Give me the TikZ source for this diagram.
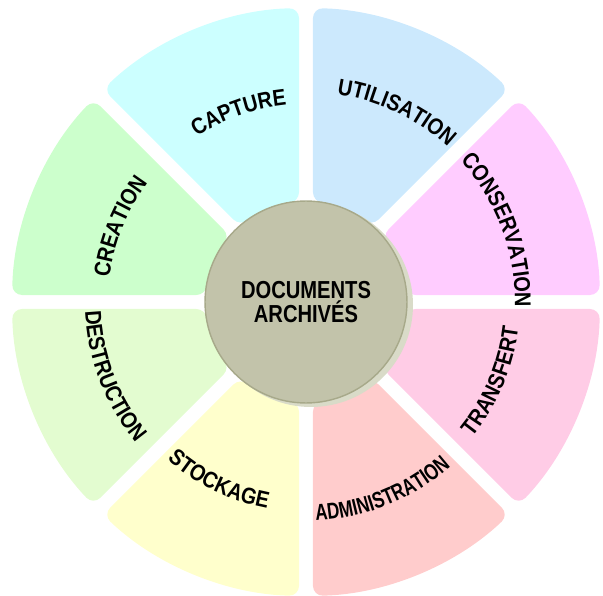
\documentclass[tikz,border=0pt]{standalone}
\usepackage{fontspec}
\setmainfont{Liberation Sans}
\newfontfamily\lblfont[FakeStretch=0.87]{Liberation Sans}
\newfontfamily\narrowfont[FakeStretch=0.75]{Liberation Sans}
\newfontfamily\hubfont[FakeStretch=0.82]{Liberation Sans}
\usetikzlibrary{decorations.text}

\definecolor{capturecol}{HTML}{CCFFFF}
\definecolor{utilcol}{HTML}{CCE9FD}
\definecolor{conscol}{HTML}{FFCCFF}
\definecolor{transcol}{HTML}{FFCCE6}
\definecolor{admincol}{HTML}{FFCCCC}
\definecolor{stockcol}{HTML}{FFFFCC}
\definecolor{destcol}{HTML}{E3FCD0}
\definecolor{creacol}{HTML}{CCFFCC}
\definecolor{hubcol}{HTML}{C2C3AA}
\definecolor{hubline}{HTML}{A7A98A}
\definecolor{hubshadow}{HTML}{D9DBC8}

\begin{document}
\begin{tikzpicture}[x=0.02cm,y=0.02cm,
    sector/.style={rounded corners=0.2cm},
    lbl/.style={decorate,decoration={text along path,text align=center,
        text={|\lblfont\bfseries\fontsize{13}{14}\selectfont|#1}}},
    narrowlbl/.style={decorate,decoration={text along path,text align=center,
        text={|\narrowfont\bfseries\fontsize{13}{14}\selectfont|#1}}}]
    \useasboundingbox (0,0) rectangle (603,596);
    \clip (0,0) rectangle (603,596);

    % Centre of the wheel
    \coordinate (c) at (306,294);

    % Segments (top half)
    \begin{scope}[shift={(c)}]
    \fill[capturecol,sector] (91.36:294) arc[start angle=91.36,end angle=133.64,radius=294] -- (131:100) arc[start angle=131,end angle=94,radius=100] -- cycle;
    \fill[utilcol,sector] (46.36:294) arc[start angle=46.36,end angle=88.64,radius=294] -- (86:100) arc[start angle=86,end angle=49,radius=100] -- cycle;
    \fill[conscol,sector] (1.36:294) arc[start angle=1.36,end angle=43.64,radius=294] -- (41:100) arc[start angle=41,end angle=4,radius=100] -- cycle;
    \fill[creacol,sector] (136.36:294) arc[start angle=136.36,end angle=178.64,radius=294] -- (176:100) arc[start angle=176,end angle=139,radius=100] -- cycle;

    % Segments (bottom half)
    \fill[transcol,sector] (-43.64:294) arc[start angle=-43.64,end angle=-1.36,radius=294] -- (-4:100) arc[start angle=-4,end angle=-41,radius=100] -- cycle;
    \fill[admincol,sector] (-88.64:294) arc[start angle=-88.64,end angle=-46.36,radius=294] -- (-49:100) arc[start angle=-49,end angle=-86,radius=100] -- cycle;
    \fill[stockcol,sector] (-133.64:294) arc[start angle=-133.64,end angle=-91.36,radius=294] -- (-94:100) arc[start angle=-94,end angle=-131,radius=100] -- cycle;
    \fill[destcol,sector] (181.36:294) arc[start angle=181.36,end angle=223.64,radius=294] -- (221:100) arc[start angle=221,end angle=184,radius=100] -- cycle;

    % Labels
    \path[lbl=CAPTURE] (133.5:198) arc[start angle=133.5,end angle=85.5,radius=198];
    \path[lbl=UTILISATION] (88.5:210) arc[start angle=88.5,end angle=40.5,radius=210];
    \path[lbl=CONSERVATION] (44.5:209) arc[start angle=44.5,end angle=-3.5,radius=209];
    \path[lbl=CREATION] (182:198) arc[start angle=182,end angle=134,radius=198];
    \path[lbl=TRANSFERT] (-47:214) arc[start angle=-47,end angle=1,radius=214];
    \path[narrowlbl=ADMINISTRATION] (-92:219) arc[start angle=-92,end angle=-44,radius=219];
    \path[lbl=STOCKAGE] (-140:210) arc[start angle=-140,end angle=-92,radius=210];
    \path[lbl=DESTRUCTION] (177:221) arc[start angle=177,end angle=225,radius=221];
    \end{scope}

    % Hub
    \fill[hubshadow] ([shift={(5,-3)}]c) circle[radius=102];
    \node[circle,fill=hubcol,draw=hubline,line width=0.8pt,minimum size=4.04cm,
        align=center,font=\hubfont\bfseries\fontsize{14}{13.5}\selectfont] (hub) at (c)
        {DOCUMENTS\\ARCHIVÉS};
\end{tikzpicture}
\end{document}
